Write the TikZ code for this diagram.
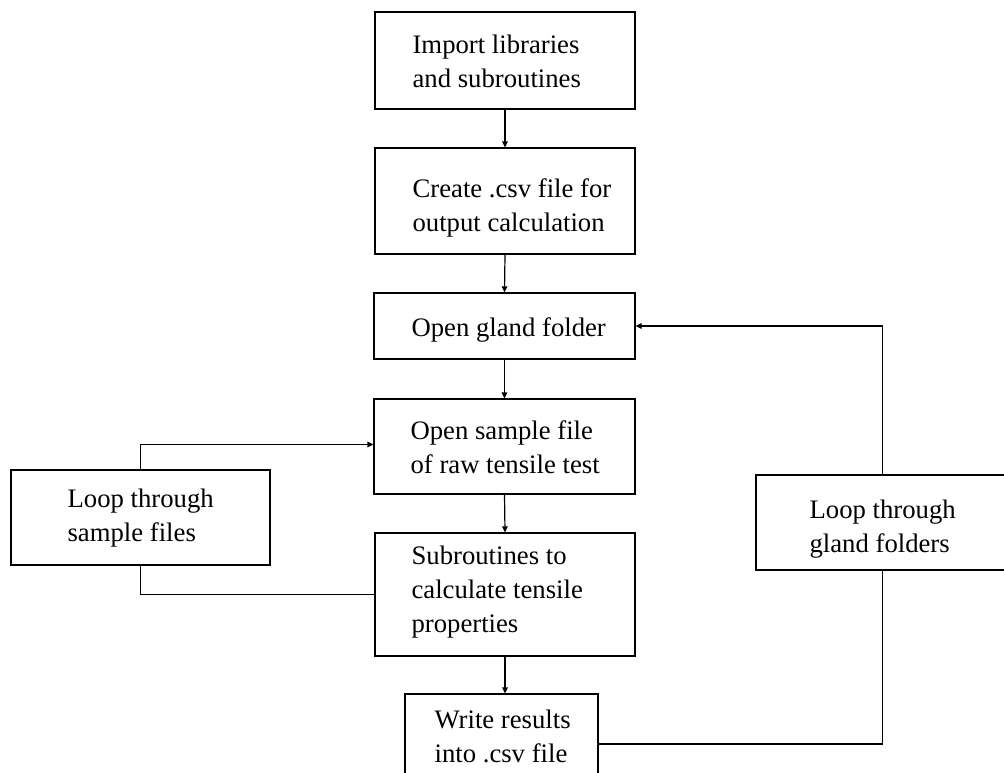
\documentclass[tikz,border=0pt]{standalone}
\usepackage{fontspec}
\setmainfont{Liberation Serif}
\newfontfamily\tnr{Liberation Serif}
\usetikzlibrary{arrows.meta}
\begin{document}
\begin{tikzpicture}[x=1pt,y=-1pt,
  frame/.style={draw, line width=1.2pt, inner sep=0pt},
  txt/.style={inner sep=0pt, align=left, anchor=west,
    font=\tnr\fontsize{26.7pt}{34pt}\selectfont},
  conn/.style={line width=1.2pt},
  arr/.style={conn, -{Triangle[length=6pt,width=5.5pt]}}]
\clip (0,0) rectangle (1004,773);
\useasboundingbox (0,0) rectangle (1004,773);
% boxes
\node[frame, minimum width=260pt, minimum height=97pt] (b1) at (505,60.5) {};
\node[frame, minimum width=260pt, minimum height=106pt] (b2) at (505,201) {};
\node[frame, minimum width=261pt, minimum height=66pt] (b3) at (504.5,326) {};
\node[frame, minimum width=261pt, minimum height=95pt] (b4) at (504.5,446.5) {};
\node[frame, minimum width=260pt, minimum height=123pt] (b5) at (505,594.5) {};
\node[frame, minimum width=193pt, minimum height=84pt] (b6) at (501.5,736) {};
\node[frame, minimum width=259pt, minimum height=95pt] (ls) at (140.5,517.5) {};
\node[frame, minimum width=253pt, minimum height=95pt] (lg) at (882.5,522.5) {};
% texts
\node[txt] (t1) at ([xshift=38pt,yshift=-1pt]b1.west) {Import libraries\\and subroutines};
\node[txt] (t2) at ([xshift=38pt,yshift=-7pt]b2.west) {Create .csv file for\\output calculation};
\node[txt] (t3) at ([xshift=38pt,yshift=-4pt]b3.west) {Open gland folder};
\node[txt] (t4) at ([xshift=37pt,yshift=-1pt]b4.west) {Open sample file\\of raw tensile test};
\node[txt] (t5) at ([xshift=37pt,yshift=2pt]b5.west) {Subroutines to\\calculate tensile\\properties};
\node[txt] (t6) at ([xshift=30pt]b6.west) {Write results\\into .csv file};
\node[txt] (t7) at ([xshift=57pt,yshift=-1pt]ls.west) {Loop through\\sample files};
\node[txt] (t8) at ([xshift=54pt,yshift=-7pt]lg.west) {Loop through\\gland folders};
% connectors
\draw[arr] (b1.south) -- (b2.north);
\draw[arr] (b2.south) -- (b3.north);
\draw[arr] (b3.south) -- (b4.north);
\draw[arr] (b4.south) -- (b5.north);
\draw[arr] (b5.south) -- (b5.south |- b6.north);
\draw[arr] (ls.north) |- ([yshift=2pt]b4.west);
\draw[conn] (ls.south) |- (b5.west);
\draw[arr] (lg.north) |- (b3.east);
\draw[conn] (lg.south) |- ([yshift=-8pt]b6.east);
\end{tikzpicture}
\end{document}
